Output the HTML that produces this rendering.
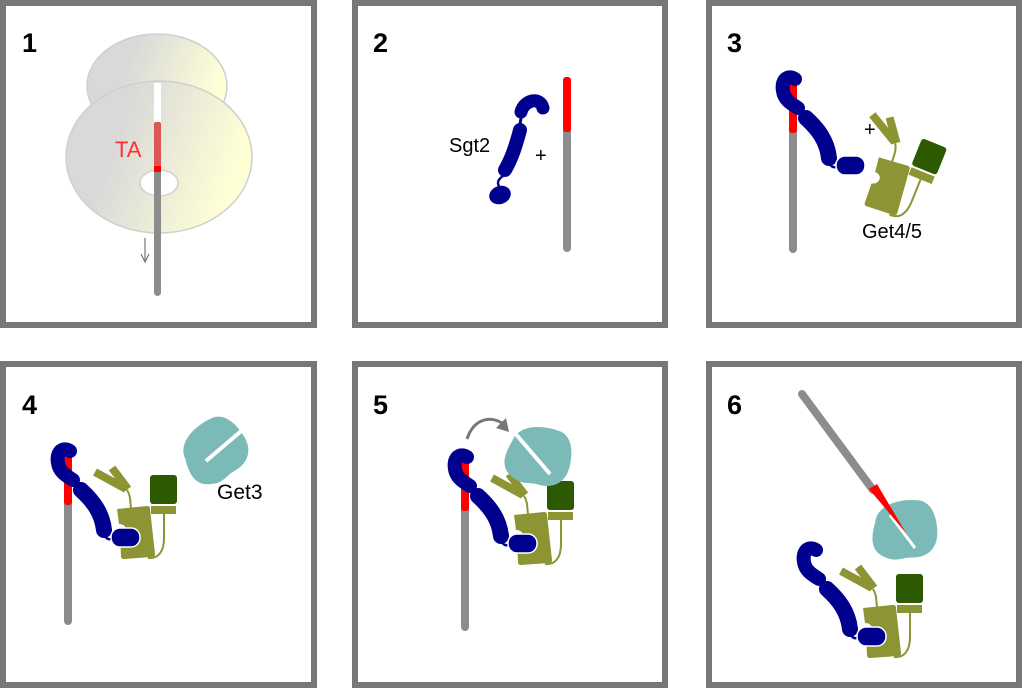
<!DOCTYPE html>
<html><head><meta charset="utf-8"><style>html,body{margin:0;padding:0;background:#fff}svg{display:block}</style></head>
<body>
<svg width="1024" height="689" viewBox="0 0 1024 689" xmlns="http://www.w3.org/2000/svg" font-family="Liberation Sans, Arial, sans-serif">
<defs>
<linearGradient id="dg" x1="0" y1="0" x2="1" y2="0.3">
<stop offset="0.35" stop-color="#d9d9d9"/><stop offset="1" stop-color="#ffffd6"/></linearGradient>
<g id="blue">
<path d="M2,1 C-6,-4 -12,3 -10,13 C-9,21 -3,25 5,30" fill="none" stroke="#00008f" stroke-width="14" stroke-linecap="round"/>
<path d="M4,30 L12,38" stroke="#00008f" stroke-width="3"/>
<path d="M13,40 C24,50 34,62 36,80" fill="none" stroke="#00008f" stroke-width="16" stroke-linecap="round"/>
<path d="M36,84 C38,90 42,90 46,88" fill="none" stroke="#00008f" stroke-width="2.5"/>
<rect x="43" y="78" width="29" height="19" rx="9" fill="#00008f" stroke="#fff" stroke-width="1.5"/>
</g>
<g id="olive">
<path d="M-7,-42 C-3,-36 -4,-30 -3,-24" fill="none" stroke="#8c9433" stroke-width="2"/>
<path d="M30,-18 L30,6 C30,20 24,27 14,26" fill="none" stroke="#8c9433" stroke-width="2"/>
<path d="M-17,-23 L13,-26 C15,-26 16,-25 16,-23 L21,22 C21,24 20,25 18,25 L-10,27 C-12,27 -13,26 -13,24 L-14,4 C-6,2 -6,-8 -15,-8 Z" fill="#8c9433"/>
<line x1="-39" y1="-60" x2="-8" y2="-43" stroke="#8c9433" stroke-width="8"/>
<line x1="-22" y1="-64" x2="-6" y2="-43" stroke="#8c9433" stroke-width="8"/>
<rect x="16" y="-57" width="27" height="29" rx="3" fill="#2d5900"/>
<rect x="17" y="-26" width="25" height="8" fill="#8c9433"/>
</g>
<g id="rod">
<rect x="-4" y="0" width="8" height="175" rx="4" fill="#8c8c8c"/>
<rect x="-4" y="0" width="8" height="55" rx="3" fill="#ff0000"/>
</g>
<path id="teal" d="M-28,-10 C-25,-28 0,-32 18,-28 C30,-25 34,-10 33,5 C32,22 20,30 5,28 C-5,27 -10,32 -22,25 C-35,18 -34,5 -28,-10 Z" fill="#7bbab7"/>
</defs>

<g fill="none" stroke="#777" stroke-width="6">
<rect x="3" y="3" width="311" height="322"/>
<rect x="355" y="3" width="310" height="322"/>
<rect x="709" y="3" width="310" height="322"/>
<rect x="3" y="364" width="311" height="321"/>
<rect x="355" y="364" width="310" height="321"/>
<rect x="709" y="364" width="310" height="321"/>
</g>
<g font-weight="bold" font-size="27" fill="#000">
<text x="22" y="52">1</text><text x="373" y="52">2</text><text x="727" y="52">3</text>
<text x="22" y="414">4</text><text x="373" y="414">5</text><text x="727" y="414">6</text>
</g>

<!-- panel 1 -->
<ellipse cx="157" cy="86" rx="70" ry="52" fill="url(#dg)" stroke="#cfcfcf" stroke-width="1.5"/>
<ellipse cx="159" cy="157" rx="93" ry="76" fill="url(#dg)" stroke="#cfcfcf" stroke-width="1.5"/>
<ellipse cx="159" cy="183" rx="19" ry="13" fill="#fff" stroke="#cfcfcf" stroke-width="1.5"/>
<rect x="154" y="83" width="7" height="40" fill="#fff"/>
<rect x="154" y="166" width="7" height="130" rx="3.5" fill="#8c8c8c"/>
<rect x="154" y="122" width="7" height="45" rx="2" fill="#dd5555"/>
<rect x="154" y="166" width="7" height="6" fill="#ff0000"/>
<text x="115" y="157" font-size="22" fill="#ff3030">TA</text>
<path d="M145,238 V262 M141,254 L145,262 L149,254" fill="none" stroke="#777" stroke-width="1.2"/>

<!-- panel 2 -->
<use href="#rod" transform="translate(567,77)"/>
<path d="M521,112 C524,100 540,96 543,108" fill="none" stroke="#00008f" stroke-width="13" stroke-linecap="round"/>
<path d="M522,112 L520,124" stroke="#00008f" stroke-width="3"/>
<path d="M520,130 C516,145 512,158 505,170" fill="none" stroke="#00008f" stroke-width="14" stroke-linecap="round"/>
<path d="M503,176 C497,180 497,184 500,188" fill="none" stroke="#00008f" stroke-width="2.5"/>
<ellipse cx="500" cy="195" rx="11" ry="9" fill="#00008f" transform="rotate(-20 500 195)"/>
<text x="449" y="152" font-size="20">Sgt2</text>
<text x="535" y="162" font-size="20">+</text>

<!-- panel 3 -->
<use href="#rod" transform="translate(793,78)"/>
<use href="#blue" transform="translate(793,78)"/>
<use href="#olive" transform="translate(886,185) rotate(22)"/>
<text x="864" y="136" font-size="20">+</text>
<text x="862" y="238" font-size="20">Get4/5</text>

<!-- panel 4 -->
<use href="#rod" transform="translate(68,450)"/>
<use href="#olive" transform="translate(134,532)"/>
<use href="#blue" transform="translate(68,450)"/>
<g transform="translate(214,451) rotate(-35)"><use href="#teal"/></g>
<path d="M246,427 L206,461" stroke="#fff" stroke-width="4"/>
<text x="217" y="499" font-size="21">Get3</text>

<!-- panel 5 -->
<use href="#rod" transform="translate(465,456)"/>
<use href="#olive" transform="translate(531,538)"/>
<use href="#blue" transform="translate(465,456)"/>
<g transform="translate(538,456) rotate(10)"><use href="#teal"/></g>
<path d="M514,432 L550,474" stroke="#fff" stroke-width="4"/>
<path d="M467,439 C474,418 492,414 506,426" fill="none" stroke="#777" stroke-width="3"/>
<path d="M509,432 L496,428 L506,418 Z" fill="#777"/>

<!-- panel 6 -->
<g transform="translate(904,530) rotate(-5)"><use href="#teal"/></g>
<path d="M890,515 L915,548" stroke="#fff" stroke-width="3"/>
<path d="M802,394 L873,490" stroke="#8c8c8c" stroke-width="8" stroke-linecap="round"/>
<path d="M869,489 L877,484 L906,533 Z" fill="#ff0000"/>
<use href="#olive" transform="translate(880,631)"/>
<use href="#blue" transform="translate(814,549)"/>
</svg>
</body></html>
